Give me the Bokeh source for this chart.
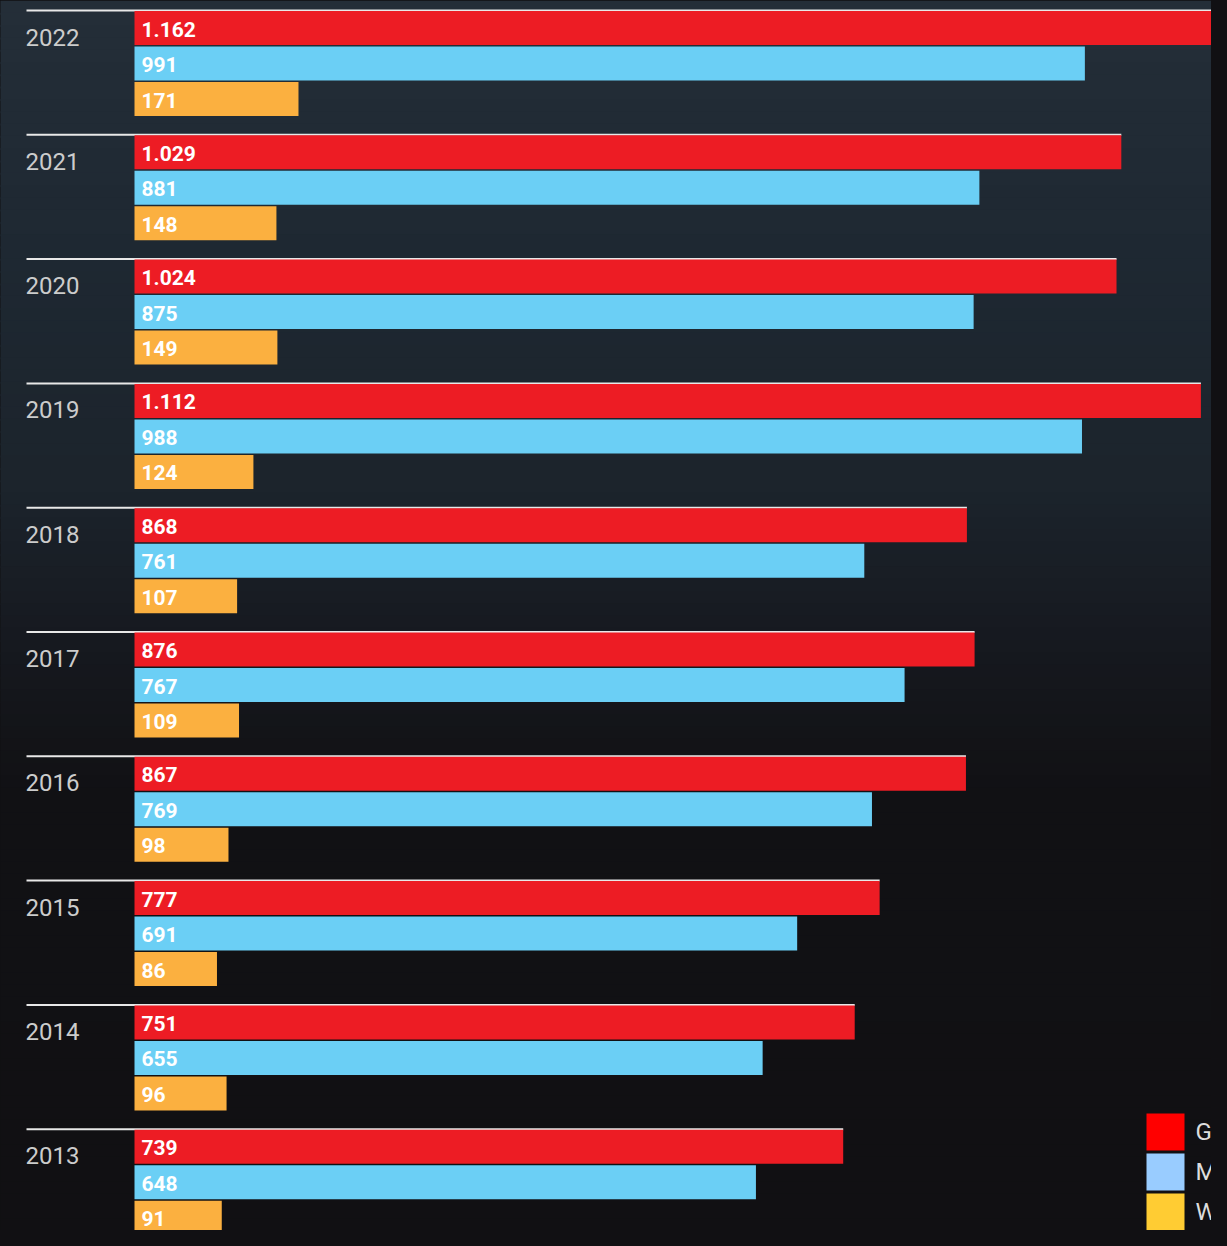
import numpy as np
from bokeh.plotting import figure
from bokeh.models import Range1d, ColumnDataSource
from bokeh.core.properties import value
from bokeh.embed import file_html
from bokeh.resources import INLINE

# ---------------- data ----------------
years = ["2022", "2021", "2020", "2019", "2018", "2017", "2016", "2015", "2014", "2013"]
gesamt = [1162, 1029, 1024, 1112, 868, 876, 867, 777, 751, 739]
maennlich = [991, 881, 875, 988, 761, 803, 769, 691, 655, 648]
weiblich = [171, 148, 149, 124, 107, 109, 98, 86, 96, 91]
gesamt_labels = ["1.162", "1.029", "1.024", "1.112", "868", "876", "867", "777", "751", "739"]
maennlich_labels = ["991", "881", "875", "988", "761", "767", "769", "691", "655", "648"]
weiblich_labels = ["171", "148", "149", "124", "107", "109", "98", "86", "96", "91"]
series_names = ["Gesamt", "Männlich", "Weiblich"]
bar_colors = ["#ED1C24", "#6BCFF5", "#FBB040"]
legend_colors = ["#FF0000", "#99CCFF", "#FFCC33"]

# ---------------- layout constants (pixels inside the figure) ----------------
W, H = 1211, 1230
ZERO_PX = 134.0
PX_PER_UNIT = 0.959
GROUP_PX = 124.3
TOP_LINE_PX = 10.0
BAR_OFF_PX = [17.5, 53.0, 88.5]
BAR_H_PX = 34.0


def xd(px):
    return (px - ZERO_PX) / PX_PER_UNIT


def yd(px):
    return (px - TOP_LINE_PX) / GROUP_PX


p = figure(width=W, height=H, output_backend="svg", toolbar_location=None,
           x_range=Range1d(xd(0), xd(W)),
           y_range=Range1d(yd(H), yd(0)),
           x_axis_location=None, y_axis_location=None, min_border=0)
p.grid.visible = False
p.outline_line_color = None
p.background_fill_color = "#111013"
p.border_fill_color = "#111013"

# ---------------- background gradient (decoration) ----------------
stops_px = [0, 250, 480, 640, 790, 1250]
stops_rgb = [(36, 46, 56), (30, 40, 50), (28, 36, 44), (22, 25, 31), (17, 17, 20), (17, 16, 19)]
nb = 100
edges = np.linspace(0, H, nb + 1)
mids = (edges[:-1] + edges[1:]) / 2
cols = []
for m in mids:
    r = [int(round(np.interp(m, stops_px, [c[k] for c in stops_rgb]))) for k in range(3)]
    cols.append("#%02x%02x%02x" % tuple(r))
p.quad(left=xd(-5), right=xd(W + 5),
       top=[yd(e) for e in edges[:-1]], bottom=[yd(e + 2.0) for e in edges[1:]],
       fill_color=cols, line_color=None)

# ---------------- separators (to the end of the Gesamt bar) and year labels ----------------
n = len(years)
idx = np.arange(n)
p.segment(x0=xd(26), x1=gesamt, y0=idx, y1=idx, line_color="#e8e8e8", line_width=2)
p.text(x=[xd(25)] * n, y=idx + 26.5 / GROUP_PX, text=years,
       text_font=value("Roboto"), text_font_size="24px", text_color="#cccccc",
       text_baseline="alphabetic", text_align="left")

# ---------------- bars + value labels ----------------
series = [gesamt, maennlich, weiblich]
labels = [gesamt_labels, maennlich_labels, weiblich_labels]
for k in range(3):
    yc = idx + BAR_OFF_PX[k] / GROUP_PX
    src = ColumnDataSource(dict(y=yc, v=series[k], lab=labels[k]))
    p.hbar(y="y", left=0, right="v", height=BAR_H_PX / GROUP_PX, source=src,
           fill_color=bar_colors[k], line_color=None)
    p.text(x=0, y="y", text="lab", source=src, x_offset=7, y_offset=1,
           text_font=value("Roboto"), text_font_style="bold", text_font_size="21px",
           text_color="white", text_baseline="middle", text_align="left")

# ---------------- legend (manual, at the right edge like the reference) ----------------
leg_top_px = [1113, 1153, 1193]
leg_h_px = 37
p.quad(left=xd(1146), right=xd(1184),
       top=[yd(t) for t in leg_top_px], bottom=[yd(t + leg_h_px) for t in leg_top_px],
       fill_color=legend_colors, line_color=None)
p.text(x=[xd(1195)] * 3, y=[yd(t + leg_h_px / 2) for t in leg_top_px], text=series_names,
       text_font=value("Roboto"), text_font_size="24px", text_color="#dddddd",
       text_baseline="middle", text_align="left")

html = file_html(p, INLINE)
html = html.replace("</head>", "<style>html, body { background: #111013; }</style></head>", 1)
open("out.html", "w").write(html)
